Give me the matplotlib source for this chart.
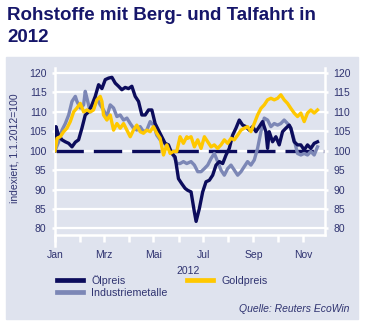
import matplotlib.pyplot as plt
from matplotlib.patches import Rectangle

plt.rcParams["font.family"] = ["Liberation Sans", "DejaVu Sans"]

W, H = 365, 328
PANEL = "#dfe3ee"
TEXT = "#2f3370"
TITEL = "#16166a"
OEL_FARBE = "#0c0c5c"
METALL_FARBE = "#7c87b6"
GOLD_FARBE = "#ffc800"

# Tage seit 1.1.2012, Index 1.1.2012 = 100
tage_oel = [0, 1.2, 4.5, 8.6, 12.7, 16.8, 20.9, 25.0, 29.0, 33.1, 37.2, 41.3, 45.4, 49.5,
            53.6, 57.7, 61.8, 65.9, 70.0, 74.1, 78.1, 82.2, 86.3, 90.4, 94.5, 98.6, 102.7,
            106.8, 110.9, 115.0, 119.1, 123.1, 127.2, 131.3, 135.4, 139.5, 143.6, 147.7,
            151.8, 155.9, 160.0, 163.2, 167.3, 171.4, 173.5, 177.5, 181.6, 185.7, 189.8,
            193.9, 198.0, 202.1, 206.2, 210.3, 214.3, 218.4, 222.5, 226.6, 230.7, 234.8,
            238.9, 243.0, 247.1, 251.2, 255.2, 259.3, 261.4, 263.4, 267.5, 271.6, 275.7,
            279.8, 283.9, 288.0, 290.0, 294.1, 298.2, 302.3, 306.4, 310.5, 314.6, 318.7,
            322.8]
oel = [100, 106.2, 104.0, 102.8, 102.3, 101.9, 101.0, 102.2, 102.8, 105.8, 109.2, 110.0,
       111.8, 114.0, 117.0, 116.0, 118.3, 118.7, 118.9, 117.4, 116.6, 115.7, 116.3, 116.0,
       116.6, 114.0, 112.7, 109.2, 109.2, 110.5, 110.5, 107.0, 105.3, 103.6, 101.9, 101.5,
       99.3, 98.4, 92.8, 91.5, 90.3, 89.8, 89.4, 84.2, 81.8, 85.1, 89.4, 92.0, 92.4, 93.7,
       96.3, 97.2, 96.7, 98.9, 100.6, 104.0, 105.8, 107.9, 106.6, 106.2, 105.3, 106.2,
       104.9, 106.2, 107.5, 104.9, 100.6, 104.9, 102.3, 103.6, 101.5, 104.9, 105.8, 106.6,
       105.8, 102.3, 101.5, 101.5, 100.2, 101.5, 100.6, 101.9, 102.3]

tage_metall = [0, 4.5, 8.6, 12.7, 16.8, 20.9, 25.0, 27.0, 31.1, 35.2, 37.2, 39.3, 43.4,
               47.4, 51.5, 55.6, 59.7, 63.8, 67.9, 72.0, 76.1, 80.2, 84.3, 88.4, 92.5,
               96.5, 100.6, 104.7, 108.8, 112.9, 117.0, 121.1, 125.2, 129.3, 133.4, 137.5,
               141.6, 145.6, 149.7, 153.8, 157.9, 162.0, 167.3, 171.4, 175.5, 179.6, 183.7,
               187.8, 191.9, 195.9, 200.0, 204.1, 208.2, 212.3, 216.4, 220.5, 224.6, 228.7,
               232.7, 236.8, 240.9, 245.0, 249.1, 253.2, 257.3, 261.4, 265.5, 269.6, 273.7,
               277.7, 281.8, 285.9, 290.0, 294.1, 298.2, 302.3, 306.4, 310.5, 314.6, 318.7,
               322.8]
metall = [100, 102.3, 105.3, 107.0, 109.2, 112.7, 114.0, 112.7, 111.0, 111.8, 115.3, 113.5,
          110.0, 111.0, 113.5, 111.8, 110.5, 108.8, 111.8, 111.0, 108.8, 109.2, 107.9, 108.4,
          107.0, 105.8, 105.3, 106.2, 104.9, 105.3, 107.5, 106.6, 104.0, 102.8, 102.3, 101.0,
          100.2, 98.9, 96.7, 96.7, 97.2, 96.7, 97.2, 96.3, 94.6, 94.6, 95.4, 96.3, 98.0, 99.3,
          97.2, 95.0, 93.7, 95.4, 96.3, 95.0, 93.7, 94.6, 95.9, 97.2, 96.3, 97.6, 100.6,
          104.9, 108.4, 107.9, 106.2, 107.0, 106.6, 107.0, 107.9, 107.0, 105.8, 102.8, 99.3,
          98.9, 99.3, 98.9, 99.8, 98.9, 101.0]

tage_gold = [0, 2.5, 6.5, 10.6, 14.7, 18.8, 22.9, 27.0, 31.1, 35.2, 39.3, 43.4, 47.4, 51.5,
             55.6, 57.7, 59.7, 63.8, 67.9, 72.0, 76.1, 80.2, 84.3, 88.4, 92.5, 96.5, 100.6,
             104.7, 108.8, 112.9, 117.0, 121.1, 125.2, 129.3, 133.4, 137.5, 141.6, 145.6,
             149.7, 153.8, 157.9, 162.0, 163.2, 167.3, 171.4, 175.5, 179.6, 183.7, 187.8,
             191.9, 195.9, 200.0, 204.1, 208.2, 212.3, 216.4, 220.5, 224.6, 228.7, 232.7,
             236.8, 240.9, 245.0, 249.1, 253.2, 257.3, 261.4, 265.5, 269.6, 273.7, 277.7,
             281.8, 285.9, 290.0, 294.1, 298.2, 302.3, 306.4, 310.5, 314.6, 318.7, 322.8]
gold = [100, 103.2, 103.6, 104.9, 105.8, 107.5, 110.0, 111.0, 112.2, 110.0, 110.5, 110.0,
        110.5, 113.1, 114.0, 112.7, 109.2, 107.9, 109.2, 105.3, 107.0, 105.8, 107.0, 105.3,
        103.6, 105.3, 106.6, 104.9, 104.5, 105.3, 104.9, 106.2, 104.5, 103.2, 98.9, 101.5,
        99.3, 99.8, 99.8, 103.6, 101.9, 103.6, 103.2, 103.6, 101.0, 102.8, 100.6, 103.6,
        102.3, 101.0, 101.5, 100.6, 101.5, 102.8, 101.9, 103.2, 102.8, 104.0, 105.3, 105.8,
        106.2, 104.9, 107.0, 109.2, 110.9, 111.8, 113.1, 113.5, 113.1, 113.5, 114.4, 113.1,
        112.2, 110.9, 109.7, 108.8, 109.7, 107.5, 109.7, 110.5, 109.7, 110.5]

monat_tage = [0, 31, 60, 91, 121, 152, 182, 213, 244, 274, 305]
monat_namen = ["Jan", "", "Mrz", "", "Mai", "", "Jul", "", "Sep", "", "Nov"]
y_ticks = [80, 85, 90, 95, 100, 105, 110, 115, 120]


def fx(px):
    return px / W


def fy(py):
    return 1 - py / H


fig = plt.figure(figsize=(W / 100, H / 100), dpi=100)
fig.patch.set_facecolor("white")
fig.add_artist(Rectangle((fx(6), fy(319)), fx(358) - fx(6), fy(57) - fy(319),
                         transform=fig.transFigure, color=PANEL, zorder=0))

ax = fig.add_axes([fx(55), fy(235), fx(325) - fx(55), fy(68) - fy(235)])
ax.set_facecolor(PANEL)
ax.set_xlim(0, 332)
ax.set_ylim(78.3, 121.3)

# weisse Gitterlinien, gestrichelte 100er-Linie
for y in y_ticks:
    ax.axhline(y, color="white", lw=1.6, zorder=1)
ax.axhline(100, color=OEL_FARBE, lw=2.4, dashes=(8.5, 3), zorder=2)

l_metall, = ax.plot(tage_metall, metall, color=METALL_FARBE, lw=2.4, zorder=3)
l_oel, = ax.plot(tage_oel, oel, color=OEL_FARBE, lw=2.4, zorder=4)
l_gold, = ax.plot(tage_gold, gold, color=GOLD_FARBE, lw=2.4, zorder=5)

ax.spines["top"].set_visible(False)
for s in ["left", "right", "bottom"]:
    ax.spines[s].set_color("white")
    ax.spines[s].set_linewidth(1.8)
ax.spines["left"].set_bounds(75.5, 121.3)

ax.set_xticks(monat_tage)
ax.set_xticklabels(monat_namen)
ax.set_yticks(y_ticks)
ax.tick_params(axis="x", colors="white", length=5, width=1.8, pad=6, labelsize=7.5,
               labelcolor=TEXT)
ax.tick_params(axis="y", colors="white", length=2.5, width=1.8, pad=3.6, labelsize=7.5,
               labelcolor=TEXT, left=True, right=True, labelleft=True, labelright=True)

fig.text(fx(15), fy(148), "indexiert, 1.1.2012=100", rotation=90, ha="center",
         va="center", fontsize=7.5, color=TEXT)
fig.text(fx(188), fy(271), "2012", ha="center", va="center", fontsize=7.5, color=TEXT)

fig.text(fx(7), fy(20), "Rohstoffe mit Berg- und Talfahrt in", ha="left", va="baseline",
         fontsize=13.5, fontweight="bold", color=TITEL)
fig.text(fx(7), fy(42), "2012", ha="left", va="baseline",
         fontsize=13.5, fontweight="bold", color=TITEL)

leg = fig.legend([l_oel, l_metall, l_gold], ["Ölpreis", "Industriemetalle", "Goldpreis"],
                 ncol=2, loc="upper left", bbox_to_anchor=(fx(57), fy(275)),
                 frameon=False, fontsize=7.7, handlelength=2.4, handletextpad=0.8,
                 columnspacing=1.85, labelspacing=0.2, borderpad=0, borderaxespad=0)
for h in leg.legend_handles:
    h.set_linewidth(3.4)
for t in leg.get_texts():
    t.set_color(TEXT)

fig.text(fx(349), fy(309), "Quelle: Reuters EcoWin", ha="right", va="center",
         fontsize=7.5, style="italic", color=TEXT)

fig.savefig("out.png", dpi=100)
